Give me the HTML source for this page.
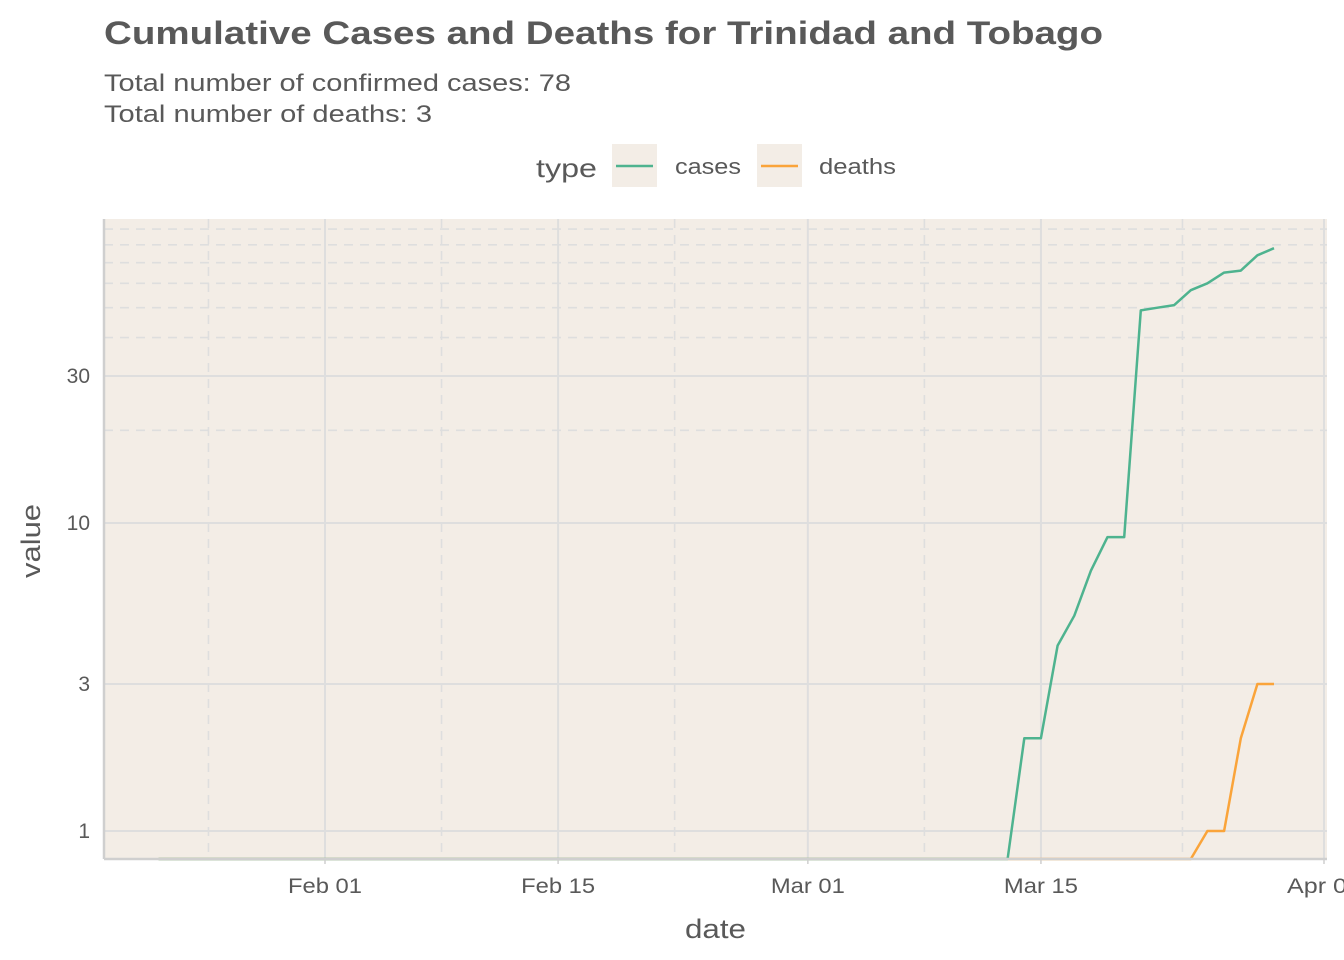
<!DOCTYPE html>
<html><head><meta charset="utf-8"><style>
body{margin:0;background:#fff;font-family:"Liberation Sans",sans-serif;}
svg{display:block}
</style></head><body>
<svg id="chart" width="1344" height="960">
<text x="104" y="44" font-size="32" font-weight="bold" fill="#595959" textLength="999" lengthAdjust="spacingAndGlyphs">Cumulative Cases and Deaths for Trinidad and Tobago</text>
<text x="104" y="91" font-size="24" fill="#595959" textLength="467" lengthAdjust="spacingAndGlyphs">Total number of confirmed cases: 78</text>
<text x="104" y="122" font-size="24" fill="#595959" textLength="328" lengthAdjust="spacingAndGlyphs">Total number of deaths: 3</text>
<g>
<text x="536" y="177" font-size="26" fill="#595959" textLength="61" lengthAdjust="spacingAndGlyphs">type</text>
<rect x="612" y="144" width="45" height="43" fill="#f3ede6"/>
<line x1="616" x2="653" y1="166" y2="166" stroke="#4eb38f" stroke-width="2.5"/>
<text x="675" y="174" font-size="22" fill="#595959" textLength="66" lengthAdjust="spacingAndGlyphs">cases</text>
<rect x="757" y="144" width="45" height="43" fill="#f3ede6"/>
<line x1="761" x2="798" y1="166" y2="166" stroke="#faa43a" stroke-width="2.5"/>
<text x="819" y="174" font-size="22" fill="#595959" textLength="77" lengthAdjust="spacingAndGlyphs">deaths</text>
</g>
<rect x="104" y="219" width="1223" height="640" fill="#f3ede6"/>
<g id="grid"></g>
<g id="series"></g>
<g id="axes"></g>
<text x="685" y="938" font-size="27" fill="#595959" textLength="61" lengthAdjust="spacingAndGlyphs">date</text>
<text transform="translate(40,541) rotate(-90)" font-size="27" fill="#595959" text-anchor="middle" textLength="74" lengthAdjust="spacingAndGlyphs">value</text>
</svg>
<script>
const dates=["2020-03-13","2020-03-14","2020-03-15","2020-03-16","2020-03-17","2020-03-18","2020-03-19","2020-03-20","2020-03-21","2020-03-22","2020-03-23","2020-03-24","2020-03-25","2020-03-26","2020-03-27","2020-03-28","2020-03-29"];
const cases=[0,2,2,4,5,7,9,9,49,50,51,57,60,65,66,74,78];
const deaths=[0,0,0,0,0,0,0,0,0,0,0,0,1,1,2,3,3];
const startDate="2020-01-22";
const yTicks=[1,3,10,30];
const yMinor=[20,40,50,60,70,80,90];
const xTickDates=["2020-02-01","2020-02-15","2020-03-01","2020-03-15","2020-04-01"];
const xTickLabels=["Feb 01","Feb 15","Mar 01","Mar 15","Apr 01"];
const xMinorDates=["2020-01-25","2020-02-08","2020-02-22","2020-03-08","2020-03-23T12:00:00"];

const L=104,R=1327,T=219,B=859;
const day=86400000;
const d0=Date.parse("2020-02-01T00:00:00Z");
function xs(d){const t=Date.parse(d.length>10?d+"Z":d+"T00:00:00Z");return 325+(t-d0)/day*16.65;}
function ys(v){if(v<=0)return B;return Math.min(B,831-308*Math.log10(v));}
const NS="http://www.w3.org/2000/svg";
function mk(tag,attrs,parent){const e=document.createElementNS(NS,tag);for(const k in attrs)e.setAttribute(k,attrs[k]);parent.appendChild(e);return e;}
const grid=document.getElementById('grid'),ser=document.getElementById('series'),ax=document.getElementById('axes');
yMinor.forEach(v=>{const y=ys(v);const l=mk('line',{x1:L,x2:R,y1:y,y2:y,stroke:'#dedede','stroke-width':1.6,'stroke-dasharray':'9 7'},grid);

});
xMinorDates.forEach(d=>{const x=xs(d);const l=mk('line',{x1:x,x2:x,y1:T,y2:B,stroke:'#dedede','stroke-width':1.6,'stroke-dasharray':'9 7'},grid);

});
yTicks.forEach(v=>{const y=ys(v);const l=mk('line',{x1:L,x2:R,y1:y,y2:y,stroke:'#dedede','stroke-width':2},grid);


const t=mk('text',{x:90,y:y+7,'font-size':21,fill:'#595959','text-anchor':'end'},ax);t.textContent=v;

});
xTickDates.forEach((d,i)=>{const x=xs(d);const l=mk('line',{x1:x,x2:x,y1:T,y2:B,stroke:'#dedede','stroke-width':2},grid);


const tk=mk('line',{x1:x,x2:x,y1:B,y2:B+5,stroke:'#cfcfcf','stroke-width':1.5},ax);


const t=mk('text',{x:x,y:893,'font-size':21,fill:'#595959','text-anchor':'middle',textLength:74,lengthAdjust:'spacingAndGlyphs'},ax);t.textContent=xTickLabels[i];

});
const axl=mk('line',{x1:L,x2:L,y1:T,y2:B,stroke:'#cfcfcf','stroke-width':2.5},ax);


const axb=mk('line',{x1:L,x2:R,y1:B,y2:B,stroke:'#cfcfcf','stroke-width':2.5},ax);


function path(vals,color,name){
  let pts=[[xs(startDate),B]];
  vals.forEach((v,i)=>pts.push([xs(dates[i]),ys(v)]));
  const p=mk('polyline',{points:pts.map(p=>p[0].toFixed(1)+','+p[1].toFixed(1)).join(' '),fill:'none',stroke:color,'stroke-width':2.5,'stroke-linejoin':'round'},ser);
  
  
}
path(deaths,'#faa43a','deaths-line');
path(cases,'#4eb38f','cases-line');
</script>
</body></html>
